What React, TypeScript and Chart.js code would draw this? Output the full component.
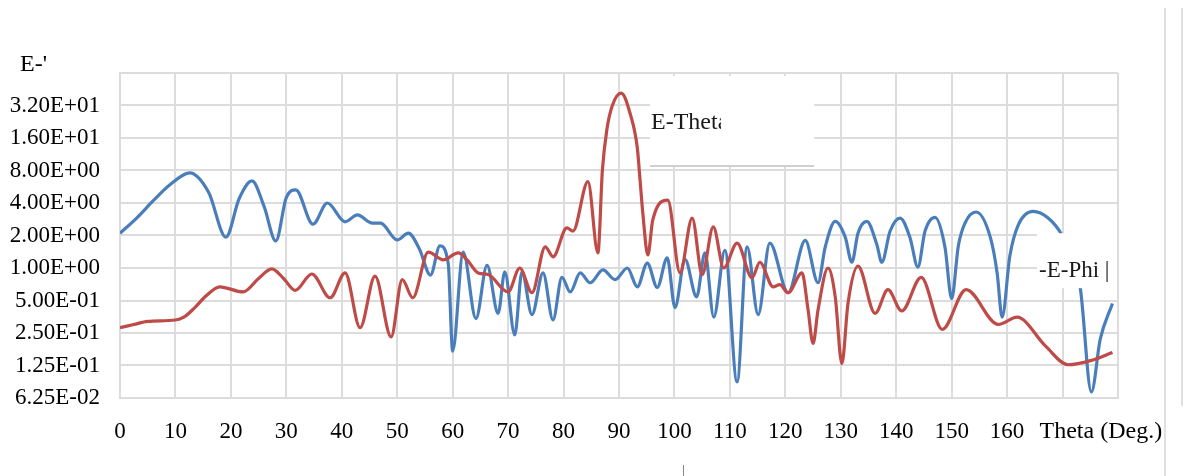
import React, { useEffect, useRef } from 'react';
import { Chart, registerables } from 'chart.js';
Chart.register(...registerables);

// E-Phi (blue) samples: theta in degrees, field value
const thetaPhi = [0, 3, 6, 9, 12.6, 16, 19.1, 21.5, 23.8, 26, 28.1, 30, 31.7, 34.8, 37.4, 40.6, 42.8, 45.5, 47, 50, 52, 54, 56, 57.7, 59.2, 60, 61.9, 64.2, 66.2, 68.2, 69.4, 71.2, 72.5, 74.3, 76.3, 78.1, 79.7, 81.2, 83, 84.8, 87.1, 89.3, 91.5, 93.3, 95.1, 96.9, 98.7, 100.1, 101.9, 104, 105.5, 107.1, 109.1, 111.3, 113.1, 115.1, 117.2, 120.5, 123.6, 125.9, 127.2, 129, 130.8, 132, 133.1, 134.7, 136.5, 137.4, 138.9, 140.7, 142.5, 143.9, 145.2, 147, 148.8, 150, 151.2, 152.4, 154.4, 157, 158.2, 159.1, 160.5, 162, 164.7, 167.4, 169.9, 171.5, 173.2, 175.2, 176.8, 179];
const ePhi = [2.1, 2.9, 4.2, 5.9, 7.6, 5.0, 1.93, 4.4, 6.4, 3.7, 1.78, 4.5, 5.3, 2.55, 4.0, 2.68, 3.1, 2.6, 2.6, 1.82, 2.1, 1.5, 0.86, 1.6, 1.1, 0.17, 1.4, 0.34, 1.06, 0.38, 0.92, 0.24, 0.92, 0.37, 0.9, 0.33, 0.82, 0.6, 0.9, 0.73, 0.96, 0.78, 1.0, 0.67, 1.11, 0.66, 1.24, 0.43, 1.2, 0.54, 1.38, 0.35, 1.46, 0.088, 1.57, 0.37, 1.7, 0.59, 1.8, 0.73, 1.57, 2.7, 1.93, 1.13, 2.1, 2.7, 1.65, 1.13, 2.2, 2.9, 1.9, 1.02, 2.2, 2.95, 1.55, 0.52, 1.6, 2.6, 3.3, 1.9, 0.9, 0.35, 1.3, 2.5, 3.35, 2.9, 2.0, 1.2, 0.65, 0.071, 0.22, 0.47];

// E-Theta (red) samples
const thetaTheta = [0, 2.5, 5, 10, 11.5, 13.5, 15.5, 18, 22.2, 25, 27.4, 29.5, 31.6, 34.6, 37.9, 40.6, 43.3, 46, 48.9, 50.9, 52.8, 55.6, 58.3, 61, 62.6, 64.6, 66.4, 70, 72.1, 74.3, 76.7, 78.1, 80.6, 81.7, 84.4, 86.2, 87, 87.8, 88.8, 90.4, 92, 93.3, 93.8, 94.3, 95.2, 96.1, 98.8, 101, 103.2, 105, 107, 108.9, 111.3, 114, 115.4, 117.8, 119, 120.5, 123, 124.1, 125, 125.9, 127.7, 129, 130.2, 131.3, 133.1, 136.2, 138.5, 141, 144.5, 148.3, 152.6, 158.4, 161.8, 166.9, 171, 175.3, 179];
const eTheta = [0.28, 0.30, 0.32, 0.33, 0.35, 0.43, 0.55, 0.67, 0.6, 0.8, 0.98, 0.8, 0.62, 0.88, 0.53, 0.9, 0.28, 0.84, 0.23, 0.78, 0.53, 1.4, 1.19, 1.38, 1.19, 0.9, 0.87, 0.6, 1.0, 0.59, 1.57, 1.27, 2.35, 2.2, 6.3, 1.38, 8, 19, 32, 41.7, 27, 13, 6.5, 3.2, 1.32, 2.8, 4.26, 0.9, 2.9, 0.87, 2.4, 1.0, 1.7, 0.81, 1.13, 0.67, 0.7, 0.59, 0.9, 0.41, 0.2, 0.41, 1.0, 0.54, 0.13, 0.47, 1.04, 0.38, 0.63, 0.4, 0.82, 0.27, 0.63, 0.3, 0.35, 0.19, 0.127, 0.14, 0.165];

const yTickValues = [0.0625, 0.125, 0.25, 0.5, 1, 2, 4, 8, 16, 32, 64];
const xLabelMax = 160;
const seriesNames = ['E-Theta', 'E-Phi'];
const axisTitleX = 'Theta (Deg.)';
const axisTitleY = "E-'";

const FONT = '"Liberation Serif", "Times New Roman", serif';
const FSIZE = 23;

function fmtE(v: number): string {
  const e = Math.floor(Math.log10(v) + 1e-9);
  const m = v / Math.pow(10, e);
  const sign = e < 0 ? '-' : '+';
  return m.toFixed(2) + 'E' + sign + String(Math.abs(e)).padStart(2, '0');
}

const overlay = {
  id: 'overlay',
  afterDatasetsDraw(chart: any) {
    const { ctx, chartArea } = chart;
    const xs = chart.scales.x;
    const ys = chart.scales.y;
    ctx.save();
    // E-Theta label box
    const l1 = xs.getPixelForValue(95.6);
    const r1 = xs.getPixelForValue(125.2);
    const t1 = chartArea.top + 3;
    const b1 = ys.getPixelForValue(8.8);
    ctx.fillStyle = '#ffffff';
    ctx.fillRect(l1, t1, r1 - l1, b1 - t1);
    ctx.strokeStyle = '#d0d0d0';
    ctx.lineWidth = 2;
    ctx.beginPath();
    ctx.moveTo(l1, b1);
    ctx.lineTo(r1, b1);
    ctx.stroke();
    ctx.save();
    ctx.beginPath();
    ctx.rect(l1, t1, 71, b1 - t1);
    ctx.clip();
    ctx.fillStyle = '#1a1a1a';
    ctx.font = `${FSIZE + 1}px ${FONT}`;
    ctx.textBaseline = 'middle';
    ctx.textAlign = 'left';
    ctx.fillText(seriesNames[0], l1 + 1, ys.getPixelForValue(22));
    ctx.restore();
    // E-Phi label box
    const l2 = xs.getPixelForValue(165.4);
    const r2 = chartArea.right - 1;
    const t2 = ys.getPixelForValue(2.1);
    const b2 = ys.getPixelForValue(0.65);
    ctx.fillStyle = '#ffffff';
    ctx.fillRect(l2, t2, r2 - l2, b2 - t2);
    ctx.fillStyle = '#1a1a1a';
    ctx.font = `${FSIZE}px ${FONT}`;
    ctx.textBaseline = 'middle';
    ctx.textAlign = 'left';
    ctx.fillText('-' + seriesNames[1] + ' |', l2 + 2, ys.getPixelForValue(0.93));
    ctx.restore();
  },
  afterDraw(chart: any) {
    const { ctx, chartArea } = chart;
    const xs = chart.scales.x;
    ctx.save();
    ctx.fillStyle = '#000';
    ctx.font = `${FSIZE + 1}px ${FONT}`;
    ctx.textBaseline = 'middle';
    ctx.textAlign = 'left';
    ctx.fillText(axisTitleX, xs.getPixelForValue(170) - 23, chartArea.bottom + 34);
    ctx.fillText(axisTitleY, 20, chartArea.top - 8);
    // frame lines at right edge of the picture
    ctx.strokeStyle = '#d6d6d6';
    ctx.lineWidth = 1.5;
    ctx.beginPath();
    ctx.moveTo(1165, 8);
    ctx.lineTo(1165, 476);
    ctx.moveTo(1182, 8);
    ctx.lineTo(1182, 406);
    ctx.stroke();
    ctx.strokeStyle = '#888';
    ctx.lineWidth = 1;
    ctx.beginPath();
    ctx.moveTo(683.5, 465);
    ctx.lineTo(683.5, 476);
    ctx.stroke();
    ctx.restore();
  },
};

export default function App() {
  const ref = useRef<HTMLCanvasElement>(null);
  useEffect(() => {
    if (!ref.current) return;
    const font = { family: FONT, size: FSIZE };
    const grid = { color: '#dcdcdc', lineWidth: 2, drawTicks: false };
    const border = { color: '#dcdcdc', width: 2 };
    const chart = new Chart(ref.current, {
      type: 'line',
      data: {
        datasets: [
          {
            label: seriesNames[0],
            data: thetaTheta.map((x, i) => ({ x, y: eTheta[i] })),
            borderColor: '#be4b48',
            borderWidth: 3.2,
            pointRadius: 0,
            cubicInterpolationMode: 'monotone',
            order: 0,
          },
          {
            label: seriesNames[1],
            data: thetaPhi.map((x, i) => ({ x, y: ePhi[i] })),
            borderColor: '#4a7ebb',
            borderWidth: 3.2,
            pointRadius: 0,
            cubicInterpolationMode: 'monotone',
            order: 1,
          },
        ],
      },
      options: {
        animation: false,
        responsive: false,
        layout: { padding: { top: 73, right: 70, left: 0, bottom: 0 } },
        plugins: { legend: { display: false }, tooltip: { enabled: false } },
        scales: {
          x: {
            type: 'linear',
            min: 0,
            max: 180,
            ticks: {
              stepSize: 10,
              autoSkip: false,
              maxRotation: 0,
              padding: 20,
              font,
              color: '#000',
              callback: (v: any) => (Number(v) <= xLabelMax ? String(v) : ''),
            },
            grid,
            border,
            afterFit: (s: any) => {
              s.height = 78;
            },
          },
          y: {
            type: 'logarithmic',
            min: 0.0625,
            max: 64,
            afterBuildTicks: (s: any) => {
              s.ticks = yTickValues.map((v) => ({ value: v }));
            },
            ticks: {
              autoSkip: false,
              padding: 20,
              font,
              color: '#000',
              callback: (v: any) => (Number(v) >= 64 ? '' : fmtE(Number(v))),
            },
            grid,
            border,
            afterFit: (s: any) => {
              s.width = 120;
            },
          },
        },
      },
      plugins: [overlay],
    } as any);
    return () => chart.destroy();
  }, []);
  return (
    <div style={{ position: 'absolute', left: 0, top: 0, width: 1188, height: 476, background: '#fff' }}>
      <canvas ref={ref} width={1188} height={476} style={{ display: 'block' }} />
    </div>
  );
}
